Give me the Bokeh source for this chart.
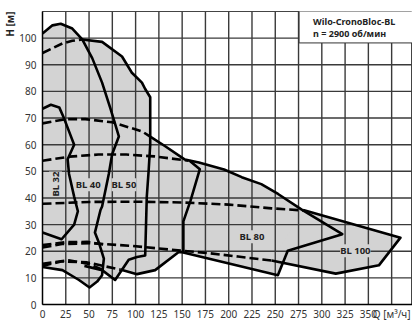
import math
from bokeh.plotting import figure
from bokeh.models import Label, BoxAnnotation, Range1d, Title
from bokeh.embed import file_html
from bokeh.resources import INLINE

# ---------------- data (Q [m3/h], H [m]) ----------------
x_ticks = [0, 25, 50, 75, 100, 125, 150, 175, 200, 225, 250, 275, 300, 325, 350, 375]
y_ticks = [0, 10, 20, 30, 40, 50, 60, 70, 80, 90, 100]
q_max = 397.4
h_max = 110

bl32_q = [0, 9, 18, 23, 28.5, 34, 27, 28.5, 34, 38, 34, 20.5, 0]
bl32_h = [73.5, 75, 74, 70, 65, 60, 54.5, 49, 40.5, 35, 30, 24.5, 27]

bl40_q = [0, 10.7, 19.6, 32, 42.7, 53.4, 64, 73, 78.3, 82, 74.8, 71.2, 64, 62.3, 56.3, 60.5, 65.9, 64, 58.7, 50.5, 39.2, 21.4, 0]
bl40_h = [101.7, 104.8, 105.4, 103.6, 99.5, 92.5, 83.3, 73.5, 67.4, 63.1, 56.4, 49, 36.8, 35.5, 27, 23.3, 17.2, 11, 8.6, 6.4, 9.2, 12.9, 14.1]

bl50_q = [42.7, 64, 85.4, 96, 106.8, 110.3, 115.7, 115.7, 114, 112, 110.3, 101.5, 92.6, 78, 64, 45]
bl50_h = [99.5, 98.6, 93.1, 87, 83.3, 80.9, 77.8, 60, 50.2, 40.4, 18.4, 17.8, 16.8, 9.2, 12.9, 14.5]

bl80_q = [115.7, 131, 153, 168, 195, 214, 235, 253, 278, 322, 263.4, 252.8, 150, 146, 121, 101.5, 83.6]
bl80_h = [63, 59.6, 54.4, 53.3, 50.7, 47.8, 45.2, 41.5, 35.7, 26.4, 20.2, 11, 19.6, 19.6, 12.9, 11.4, 13.1]

bl65_edge_q = [158, 169, 159, 151.3, 151.3, 150]
bl65_edge_h = [54, 50.8, 39, 31.2, 20.2, 19.6]

bl100_q = [280, 384.5, 361.3, 315, 246]
bl100_h = [35.5, 25.1, 14.7, 11.6, 16.5]

# pump curves (dashed)
c1_q = [0, 10.7, 21.4, 32, 42.7]
c1_h = [94.4, 96.2, 98, 99, 99.5]
c2_q = [0, 25, 46, 75, 107, 115.7]
c2_h = [68, 69.6, 69.6, 68.4, 65, 63]
c3_q = [0, 29, 60, 90, 120, 157]
c3_h = [54, 55.5, 56.3, 56.3, 55.6, 54]
c4_q = [0, 50, 100, 150, 200, 246, 280]
c4_h = [37.8, 38.5, 38.6, 38.3, 37.5, 36.1, 35.3]
c5_q = [0, 21, 53, 96, 150, 178, 210, 246]
c5_h = [21.4, 22.7, 23, 22, 20.2, 19.3, 18, 16.5]
c6_q = [0, 25, 48, 66]
c6_h = [22.3, 23.4, 23.5, 22.5]
c7_q = [0, 21, 48, 83.6]
c7_h = [14.5, 16.2, 15.8, 13.1]
c8_q = [0, 28, 50, 65]
c8_h = [15.3, 16.6, 15.2, 13]

labels = ["BL 32", "BL 40", "BL 50", "BL 80", "BL 100"]
label_q = [14, 49, 87.5, 225, 336]
label_h = [45.2, 45, 45, 25.4, 20.2]
label_angle = [math.pi / 2, 0, 0, 0, 0]

title1 = "Wilo-CronoBloc-BL"
title2 = "n = 2900 об/мин"
x_title = "Q [м³/ч]"
y_title = "H [м]"

GRAY = "#d3d3d3"
GRID = "#3a3a3a"
FONT = "Noto Sans"

p = figure(width=412, height=323, output_backend="svg", toolbar_location=None,
           x_range=Range1d(0, q_max), y_range=Range1d(0, h_max),
           min_border_left=40, min_border_right=0, min_border_top=11, min_border_bottom=0)
p.background_fill_color = "white"
p.border_fill_color = "white"
p.outline_line_color = "#444444"

# fills (lowest level)
for q, h in [(bl40_q, bl40_h), (bl32_q, bl32_h), (bl50_q, bl50_h), (bl80_q, bl80_h), (bl100_q, bl100_h)]:
    p.patch(q, h, fill_color=GRAY, line_color=None, level="image")

# axes
p.xaxis.ticker = x_ticks
p.yaxis.ticker = y_ticks
p.xaxis.major_label_overrides = {375: x_title}
for ax in (p.xaxis, p.yaxis):
    ax.major_tick_line_color = None
    ax.minor_tick_line_color = None
    ax.major_tick_out = 0
    ax.major_tick_in = 0
    ax.minor_tick_out = 0
    ax.axis_line_color = "black"
    ax.axis_line_width = 1.5
    ax.major_label_text_font = FONT
    ax.major_label_text_font_size = "10px"
    ax.major_label_text_color = "#333333"
p.yaxis.major_label_standoff = 6
p.xaxis.major_label_standoff = 2
p.grid.visible = False

# grid lines at the tick positions, over the grey fills and under the curves
xt = x_ticks[1:]
yt = y_ticks[1:]
p.multi_line(xs=[[t, t] for t in xt], ys=[[0, h_max] for t in xt],
             line_color=GRID, line_width=1.4, line_alpha=1)
p.multi_line(xs=[[0, q_max] for t in yt], ys=[[t, t] for t in yt],
             line_color=GRID, line_width=1.4, line_alpha=1)

# y title at the top of the left side
p.add_layout(Title(text=y_title, align="right", text_font=FONT, text_font_size="10px",
                   text_font_style="bold", text_color="#222222", standoff=0, offset=0), "left")

# outlines
LW = 2.6
for q, h in [(bl32_q, bl32_h), (bl40_q, bl40_h), (bl50_q, bl50_h), (bl80_q, bl80_h),
             (bl65_edge_q, bl65_edge_h), (bl100_q, bl100_h)]:
    p.line(q, h, line_color="black", line_width=LW, line_join="round")

for q, h in [(c1_q, c1_h), (c2_q, c2_h), (c3_q, c3_h), (c4_q, c4_h),
             (c5_q, c5_h), (c6_q, c6_h), (c7_q, c7_h), (c8_q, c8_h)]:
    p.line(q, h, line_color="black", line_width=LW, line_dash="9 4")

# series labels
for t, q, h, a in zip(labels, label_q, label_h, label_angle):
    p.add_layout(Label(x=q, y=h, text=t, angle=a, text_align="center", text_baseline="middle",
                       text_font=FONT, text_font_size="9.5px", text_font_style="bold",
                       text_color="#222222", background_fill_color=GRAY))

# info box
p.add_layout(BoxAnnotation(left=275.6, right=405, bottom=98.2, top=110.5, fill_color="white",
                           fill_alpha=1, line_color="#333333", line_width=1, line_alpha=1))
p.add_layout(Label(x=290.6, y=106.1, text=title1, text_baseline="middle", text_font=FONT,
                   text_font_size="9px", text_font_style="bold", text_color="#222222"))
p.add_layout(Label(x=290.6, y=101.7, text=title2, text_baseline="middle", text_font=FONT,
                   text_font_size="9px", text_font_style="bold", text_color="#222222"))

open("out.html", "w").write(file_html(p, INLINE))
